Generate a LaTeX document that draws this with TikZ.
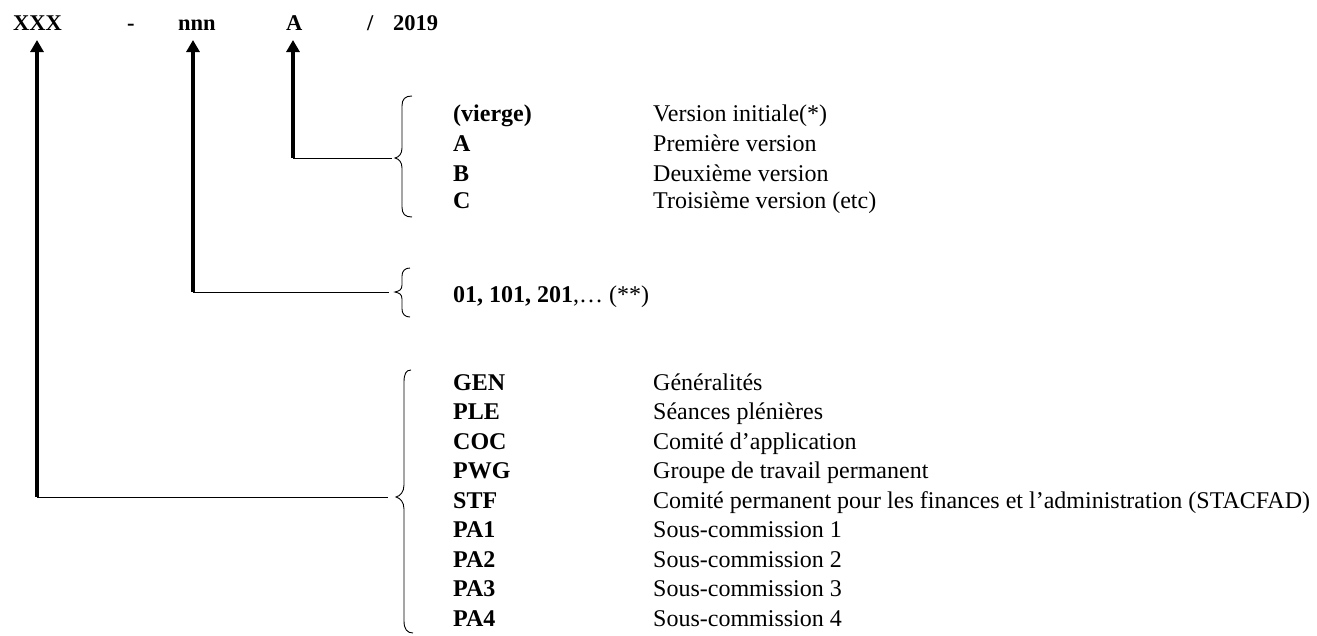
\documentclass[tikz,border=0pt]{standalone}
\usepackage{fontspec}
\setmainfont{Liberation Serif}
\usetikzlibrary{arrows.meta}
\begin{document}
\begin{tikzpicture}[x=1pt,y=-1pt,
  head/.style={anchor=base west,inner sep=0pt,font=\fontsize{22.5}{27}\selectfont\bfseries},
  txt/.style={anchor=base west,inner sep=0pt,font=\fontsize{24}{29}\selectfont},
  code/.style={txt,font=\fontsize{24}{29}\selectfont\bfseries},
  pointer/.style={line width=3.3pt,-{Triangle[width=13pt,length=12pt]}},
  link/.style={line width=1pt},
  wbrace/.style={line width=0.9pt}]
\useasboundingbox (0,0) rectangle (1317,635);
% top row
\node[head] (xxx) at (13,30) {XXX};
\node[head] (dash) at (127,30) {-};
\node[head] (nnn) at (178,30) {nnn};
\node[head] (aa) at (286,30) {A};
\node[head] (sl) at (367,30) {/};
\node[head] (yr) at (393,30) {2019};
% corners and tips
\coordinate (tx) at (37,40);
\coordinate (tn) at (193,40);
\coordinate (ta) at (293,40);
\coordinate (cx) at (37,497);
\coordinate (cn) at (193,292);
\coordinate (ca) at (293,158);
\coordinate (ex) at (388,497);
\coordinate (en) at (389,292);
\coordinate (ea) at (392,158);
\draw[pointer] (cx) -- (tx);
\draw[pointer] (cn) -- (tn);
\draw[pointer] (ca) -- (ta);
\draw[link] (cx) -- (ex);
\draw[link] (cn) -- (en);
\draw[link] (ca) -- (ea);
% braces
\draw[wbrace] (412,96) .. controls (405,96) and (402,99) .. (402,106)
  -- (402,148) .. controls (402,154) and (399,157) .. (395,158)
  .. controls (399,159) and (402,162) .. (402,168)
  -- (402,207) .. controls (402,214) and (405,217) .. (412,217);
\draw[wbrace] (410,268) .. controls (405,268) and (402,271) .. (402,276)
  -- (402,285) .. controls (402,290) and (399,291) .. (395,292)
  .. controls (399,293) and (402,294) .. (402,299)
  -- (402,309) .. controls (402,314) and (405,317) .. (410,317);
\draw[wbrace] (411,370) .. controls (406,370) and (404,374) .. (404,382)
  -- (404,485) .. controls (404,492) and (400,496) .. (396,497)
  .. controls (400,498) and (404,502) .. (404,509)
  -- (404,621) .. controls (404,629) and (407,633) .. (413,633);
% version list
\node[code] (v0) at (453,121) {(vierge)};
\node[code] (v1) at (453,151) {A};
\node[code] (v2) at (453,181) {B};
\node[code] (v3) at (453,208) {C};
\node[txt] (d0) at (653,121) {Version initiale(*)};
\node[txt] (d1) at (653,151) {Première version};
\node[txt] (d2) at (653,181) {Deuxième version};
\node[txt] (d3) at (653,208) {Troisième version (etc)};
% numbers
\node[txt] (num) at (453,302) {\textbf{01, 101, 201},\ldots\ (**)};
% organs
\foreach \c/\d [count=\i from 0] in {GEN/Généralités, PLE/Séances plénières, COC/Comité d’application, PWG/Groupe de travail permanent, STF/Comité permanent pour les finances et l’administration (STACFAD), PA1/Sous-commission 1, PA2/Sous-commission 2, PA3/Sous-commission 3, PA4/Sous-commission 4}{
  \node[code] (c\i) at (453,390+29.5*\i) {\c};
  \node[txt] (o\i) at (653,390+29.5*\i) {\d};
}
\end{tikzpicture}
\end{document}
